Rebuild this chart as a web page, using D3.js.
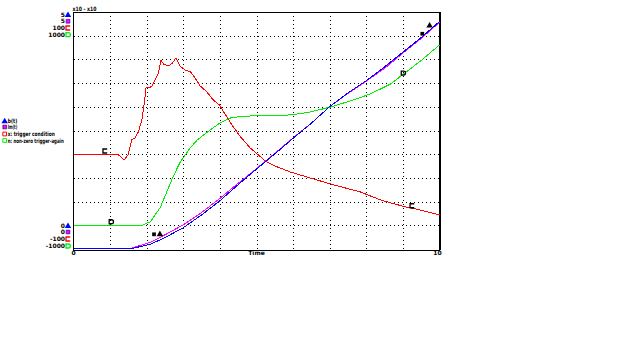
<!DOCTYPE html>
<html><head><meta charset="utf-8">
<script src="https://cdn.jsdelivr.net/npm/d3@7"></script>
<style>
html,body{margin:0;padding:0;background:#fff;}
text{font-family:"DejaVu Sans",sans-serif;font-weight:bold;font-size:6px;fill:#000;}
</style></head>
<body><svg id="c" width="623" height="355"></svg>
<script>
// ---- data ----
const chartTitle = "x10 - x10";
const xTickLabels = ["0", "Time", "10"];
const seriesNames = ["b(t)", "Im(t)", "x: trigger condition", "n: non-zero trigger-again"];
const topLabels = ["5", "5", "100", "1000"];
const bottomLabels = ["0", "0", "-100", "-1000"];

const tA = [0,1.6,2.1,2.5,3.0,3.5,4.0,4.5,5.0,5.5,6.0,6.5,7.0,7.5,8.0,8.5,9.0,9.5,10];
const valA = [0,0,0.09,0.23,0.44,0.71,1.01,1.35,1.68,2.0,2.33,2.65,3.0,3.29,3.55,3.84,4.15,4.46,4.8];
const tB = [0,1.55,2.1,2.5,3.0,3.5,4.0,4.5,5.0,5.5,6.0,6.5,7.0,7.5,8.0,8.5,9.0,9.5,10];
const valB = [0,0,0.13,0.29,0.5,0.76,1.06,1.38,1.69,2.01,2.34,2.65,3.0,3.28,3.54,3.81,4.13,4.44,4.78];
const tC = [0,1.19,1.27,1.38,1.49,1.59,1.68,1.77,1.87,1.94,1.98,2.07,2.14,2.23,2.32,2.39,2.46,2.59,2.69,2.80,2.91,3.05,3.19,3.30,3.46,3.64,3.82,3.99,4.10,4.33,4.56,4.83,5.02,5.24,5.51,5.92,6.47,7.02,7.84,8.39,9.02,9.48,10];
const valC = [-2,-2,-2.15,-2.49,-2.07,-0.80,-0.63,-0.13,0.89,2.41,3.59,3.63,3.71,4.26,4.85,5.91,5.61,5.44,5.65,6.12,5.44,5.11,4.96,4.54,3.76,3.27,2.57,2.15,1.59,0.46,-0.52,-1.48,-1.98,-2.57,-3.0,-3.5,-4.01,-4.51,-5.19,-5.86,-6.41,-6.71,-7.13];
const tD = [0,1.87,2.1,2.37,2.72,2.91,3.18,3.38,3.73,4.0,4.28,4.56,5.1,5.92,6.47,7.02,7.56,8.11,8.66,9.02,9.48,10];
const valD = [-8,-8,-7.7,-6.5,-3.9,-2.7,-1.5,-0.8,0.04,0.63,1.05,1.18,1.27,1.31,1.56,1.98,2.49,3.08,3.92,4.77,5.86,7.22];

const markA = [[2.36,0.3],[9.73,4.71]];
const markB = [[2.2,0.3],[9.53,4.54]];
const markC = [[0.86,-1.73],[9.25,-6.35]];
const markD = [[1.03,-7.70],[9.01,4.85]];

// ---- scales ----
const L = 73.5, R = 439.5, T = 12, B = 249;
const x = d3.scaleLinear().domain([0,10]).range([L, R]);
const yAB = d3.scaleLinear().domain([0,5]).range([B-0.5, T]);
const yCD = d3.scaleLinear().domain([-10,10]).range([B, T]);

const svg = d3.select("#c");

// grid
svg.append("g").attr("transform",`translate(0,${B})`)
  .call(d3.axisBottom(x).tickValues(d3.range(1,10)).tickSize(-(B-T)).tickFormat(""))
  .call(g=>g.select(".domain").remove())
  .call(g=>g.selectAll("line").attr("stroke","#000").attr("stroke-dasharray","1,3").attr("shape-rendering","crispEdges"));
svg.append("g").attr("transform",`translate(${L},0)`)
  .call(d3.axisLeft(yCD).tickValues(d3.range(1,10).map(d=>d*2-10)).tickSize(-(R-L)).tickFormat(""))
  .call(g=>g.select(".domain").remove())
  .call(g=>g.selectAll("line").attr("stroke","#000").attr("stroke-dasharray","1,3").attr("shape-rendering","crispEdges"));

// frame
svg.append("rect").attr("x",L).attr("y",T).attr("width",R-L).attr("height",B-T+1)
  .attr("fill","none").attr("stroke","#000").attr("stroke-width",1).attr("shape-rendering","crispEdges");
svg.append("line").attr("x1",R+1).attr("x2",R+1).attr("y1",T).attr("y2",B+1).attr("stroke","#000").attr("stroke-width",1).attr("shape-rendering","crispEdges");

// series
const series = [
  {t:tA, v:valA, y:yAB, color:"#0000ff"},
  {t:tB, v:valB, y:yAB, color:"#ff00ff"},
  {t:tC, v:valC, y:yCD, color:"#ff0000"},
  {t:tD, v:valD, y:yCD, color:"#00ee00"}
];
[3,2,1,0].forEach(i=>{
  const s = series[i];
  const pts = s.t.map((t,j)=>[t,s.v[j]]);
  svg.append("path").datum(pts)
    .attr("d", d3.line().x(d=>x(d[0])).y(d=>s.y(d[1])))
    .attr("fill","none").attr("stroke",s.color).attr("stroke-width",1)
    .attr("shape-rendering","crispEdges");
});

// marker shapes
const symA = d3.symbol(d3.symbolTriangle, 18)();
const symB = d3.symbol(d3.symbolSquare, 14)();
const symC = "M2.2,-2 H-2 V2 H2.2";
const symD = "M-2,-2 H0.3 Q2.3,-2 2.3,0 Q2.3,2 0.3,2 H-2 Z";
function marker(g, path, cx, cy, fill, stroke, sw){
  g.append("path").attr("d",path).attr("transform",`translate(${cx},${cy})`)
    .attr("fill",fill).attr("stroke",stroke).attr("stroke-width",sw||0);
}
markA.forEach(d=>marker(svg,symA,x(d[0]),yAB(d[1]),"#000","none"));
markB.forEach(d=>marker(svg,symB,x(d[0]),yAB(d[1]),"#000","none"));
markC.forEach(d=>marker(svg,symC,x(d[0]),yCD(d[1]),"none","#000",1.3));
markD.forEach(d=>marker(svg,symD,x(d[0]),yCD(d[1]),"none","#000",1.3));

// title
svg.append("text").attr("x",L-1).attr("y",11).text(chartTitle).attr("textLength",24).attr("lengthAdjust","spacingAndGlyphs");

// x labels
svg.append("text").attr("x",x(0)).attr("y",254.5).attr("text-anchor","middle").text(xTickLabels[0]);
svg.append("text").attr("x",x(5)).attr("y",254.5).attr("text-anchor","middle").text(xTickLabels[1]);
svg.append("text").attr("x",x(10)-2).attr("y",254.5).attr("text-anchor","middle").text(xTickLabels[2]);

// left scale labels
const keyMarks = [
  g=>marker(g,symA,0,0.5,"#0000ff","none"),
  g=>marker(g,symB,0,0,"#ff00ff","#0000aa",0.6),
  g=>marker(g,symC,0,0,"none","#ff0000",1.3),
  g=>marker(g,symD,0,0,"none","#00ee00",1.3)
];
const topY = [14.7,21.3,28,34.7];
const botY = [225.7,232,239,246];
topLabels.forEach((lab,i)=>{
  const g = svg.append("g").attr("transform",`translate(68,${topY[i]})`);
  g.append("text").attr("x",-3).attr("y",2).attr("text-anchor","end").text(lab);
  keyMarks[i](g);
});
bottomLabels.forEach((lab,i)=>{
  const g = svg.append("g").attr("transform",`translate(68,${botY[i]})`);
  g.append("text").attr("x",-3).attr("y",2).attr("text-anchor","end").text(lab);
  keyMarks[i](g);
});

// legend
const legY = [121,127,134,140.5];
const legW = [9.5,9.5,47,56];
const legMarks = [
  g=>marker(g,symA,0,0.5,"#0000ff","none"),
  g=>marker(g,symB,0,0,"#ff00ff","#000066",0.6),
  g=>marker(g,d3.symbol(d3.symbolSquare,14)(),0,0,"#fff","#ff0000",1),
  g=>marker(g,d3.symbol(d3.symbolSquare,14)(),0,0,"#fff","#00ee00",1)
];
seriesNames.forEach((n,i)=>{
  const g = svg.append("g").attr("transform",`translate(4.7,${legY[i]})`);
  legMarks[i](g);
  g.append("text").attr("x",3).attr("y",2).text(n).attr("textLength",legW[i]).attr("lengthAdjust","spacingAndGlyphs");
});
</script>
</body></html>
